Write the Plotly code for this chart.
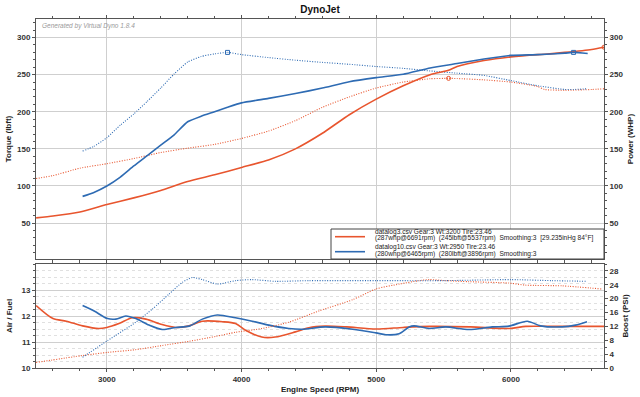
import numpy as np
import plotly.graph_objects as go

# ---------------- data ----------------
red_rpm = [2475, 2600, 2800, 3000, 3200, 3400, 3600, 3800, 4000, 4200, 4400, 4600, 4800,
           5000, 5200, 5400, 5537, 5600, 5800, 6000, 6200, 6250, 6400, 6600, 6691]
red_hp = [57, 59.5, 65, 75, 84, 94, 106, 115, 125, 135, 150, 171, 196,
          217, 235, 250, 256, 261, 269, 274, 277, 277.5, 280, 284, 287]
red_tq = [110, 114, 124, 130, 137, 145, 151, 156, 164, 174, 188, 206, 220,
          232, 240, 244.5, 245, 244.8, 243, 240, 234, 230, 229, 230, 231]

blue_rpm = [2820, 2900, 3000, 3100, 3200, 3300, 3400, 3500, 3600, 3700, 3800, 3896, 4000,
            4200, 4400, 4600, 4800, 5000, 5200, 5400, 5600, 5800, 6000, 6200, 6400, 6465, 6570]
blue_hp = [86, 91, 100, 112, 127, 141, 155, 169, 186.5, 194, 200, 206, 212,
           218, 224.5, 232, 240.5, 246, 250.5, 259, 265, 271, 276, 277, 279, 280, 278.5]
blue_tq = [147, 153, 165, 182, 197, 214, 232, 251, 267, 274.5, 278, 280, 277,
           273, 269.5, 266.5, 264, 261, 258.5, 255, 252, 249, 242, 235, 230, 230, 231]

red_afr_rpm = [2475, 2600, 2700, 2820, 2940, 3000, 3090, 3190, 3290, 3410, 3510, 3610, 3710,
               3860, 3955, 4030, 4150, 4250, 4400, 4500, 4620, 4780, 5000, 5200, 5400, 5700,
               5990, 6110, 6300, 6691]
red_afr = [12.4, 11.9, 11.8, 11.62, 11.52, 11.56, 11.71, 11.93, 11.88, 11.67, 11.56, 11.62, 11.8,
           11.78, 11.71, 11.45, 11.19, 11.19, 11.39, 11.55, 11.61, 11.58, 11.5, 11.56, 11.6, 11.58,
           11.52, 11.6, 11.6, 11.6]

blue_afr_rpm = [2820, 2906, 3005, 3067, 3141, 3215, 3313, 3412, 3511, 3610, 3709, 3820, 3955,
                4079, 4203, 4350, 4449, 4622, 4825, 4998, 5072, 5170, 5244, 5281, 5393, 5516,
                5689, 5861, 5985, 6121, 6220, 6380, 6479, 6565]
blue_afr = [12.4, 12.19, 11.9, 11.88, 12.0, 11.9, 11.65, 11.48, 11.56, 11.61, 11.88, 12.04, 11.93,
            11.8, 11.65, 11.52, 11.49, 11.58, 11.49, 11.35, 11.28, 11.32, 11.58, 11.62, 11.52, 11.58,
            11.48, 11.58, 11.61, 11.8, 11.62, 11.58, 11.65, 11.78]

red_boost_rpm = [2475, 2820, 3005, 3215, 3412, 3610, 3807, 3955, 4153, 4350, 4578, 4825, 4998,
                 5170, 5319, 5393, 5516, 5689, 5985, 6109, 6380, 6674]
red_boost = [1.6, 3.6, 4.5, 5.3, 6.5, 7.7, 9.1, 10.3, 11.4, 13.2, 16.5, 19.7, 22.8,
             24.2, 25.2, 25.5, 25.2, 24.9, 24.5, 23.9, 23.7, 22.8]

blue_boost_rpm = [2820, 3005, 3215, 3338, 3461, 3560, 3635, 3709, 3820, 3955, 4079, 4252,
                  4500, 5000, 5500, 6000, 6300, 6565]
blue_boost = [3.1, 7.9, 13.2, 17.0, 21.3, 24.7, 26.1, 25.5, 24.2, 25.2, 25.5, 25.0,
              25.2, 25.2, 25.2, 25.5, 25.2, 25.0]

legend_red = ["datalog3.csv Gear:3 Wt:3200 Tire:23.46",
              "(287whp@6691rpm)  (245lbft@5537rpm)  Smoothing:3  [29.235inHg 84°F]"]
legend_blue = ["datalog10.csv Gear:3 Wt:2950 Tire:23.46",
               "(280whp@6465rpm)  (280lbft@3896rpm)  Smoothing:3"]

RED = "#E8552E"
BLUE = "#2E6BB3"
FONT = "Liberation Sans"
DOT = "1px,1.5px"

fig = go.Figure()

# top panel
fig.add_trace(go.Scatter(x=red_rpm, y=red_hp, xaxis="x", yaxis="y2", mode="lines",
                         line=dict(color=RED, width=1.6, shape="spline", smoothing=0.5),
                         name=legend_red[0], showlegend=False))
fig.add_trace(go.Scatter(x=blue_rpm, y=blue_hp, xaxis="x", yaxis="y2", mode="lines",
                         line=dict(color=BLUE, width=1.6, shape="spline", smoothing=0.5),
                         name=legend_blue[0], showlegend=False))
fig.add_trace(go.Scatter(x=red_rpm, y=red_tq, xaxis="x", yaxis="y", mode="lines",
                         line=dict(color=RED, width=1.1, dash=DOT, shape="spline", smoothing=0.5),
                         showlegend=False))
fig.add_trace(go.Scatter(x=blue_rpm, y=blue_tq, xaxis="x", yaxis="y", mode="lines",
                         line=dict(color=BLUE, width=1.1, dash=DOT, shape="spline", smoothing=0.5),
                         showlegend=False))

# peak markers
for xs, ys, col, sym, ax in [(red_rpm, red_hp, RED, "circle-open", "y2"),
                             (red_rpm, red_tq, RED, "circle-open", "y"),
                             (blue_rpm, blue_hp, BLUE, "square-open", "y2"),
                             (blue_rpm, blue_tq, BLUE, "square-open", "y")]:
    i = int(np.argmax(ys))
    fig.add_trace(go.Scatter(x=[xs[i]], y=[ys[i]], xaxis="x", yaxis=ax, mode="markers",
                             marker=dict(symbol=sym, size=4, color=col, line=dict(width=1)),
                             showlegend=False))

# bottom panel
fig.add_trace(go.Scatter(x=red_afr_rpm, y=red_afr, xaxis="x2", yaxis="y3", mode="lines",
                         line=dict(color=RED, width=1.6, shape="spline", smoothing=0.8),
                         showlegend=False))
fig.add_trace(go.Scatter(x=blue_afr_rpm, y=blue_afr, xaxis="x2", yaxis="y3", mode="lines",
                         line=dict(color=BLUE, width=1.6, shape="spline", smoothing=0.8),
                         showlegend=False))
fig.add_trace(go.Scatter(x=red_boost_rpm, y=red_boost, xaxis="x2", yaxis="y4", mode="lines",
                         line=dict(color=RED, width=1.1, dash=DOT, shape="spline", smoothing=0.6),
                         showlegend=False))
fig.add_trace(go.Scatter(x=blue_boost_rpm, y=blue_boost, xaxis="x2", yaxis="y4", mode="lines",
                         line=dict(color=BLUE, width=1.1, dash=DOT, shape="spline", smoothing=0.6),
                         showlegend=False))

# layout geometry (pixels -> paper)
L, R, T, B = 36, 36, 19, 29
PW, PH = 640 - L - R, 397 - T - B


def px_x(p):
    return (p - L) / PW


def px_y(p):
    return (397 - B - p) / PH


TOP_LOW = px_y(259)
BOT_HIGH = px_y(264)
XR = [2474, 6691]
tickfont = dict(family=FONT, size=8, color="#333", weight="bold")
titlefont = dict(family=FONT, size=8, color="#222", weight="bold")
grid = "#cfcfcf"
axline = dict(showline=True, linecolor="#555", linewidth=1, automargin=False)

fig.update_layout(
    width=640, height=397,
    margin=dict(l=L, r=R, t=T, b=B),
    paper_bgcolor="white", plot_bgcolor="white",
    title=dict(text="<b>DynoJet</b>", x=0.5, xanchor="center", y=0.975, yanchor="middle",
               font=dict(family=FONT, size=10, color="#111")),
    showlegend=False,
    xaxis=dict(domain=[0, 1], anchor="y", range=XR, tick0=0, dtick=1000,
               showticklabels=False, showgrid=True, gridcolor=grid, zeroline=False,
               ticks="outside", ticklen=3, tickcolor="#555", mirror="ticks",
               minor=dict(tick0=0, dtick=200, ticks="outside", ticklen=2, tickcolor="#555",
                          showgrid=False),
               **axline),
    yaxis=dict(domain=[TOP_LOW, 1], anchor="x", range=[1.6, 325], tick0=0, dtick=50,
               showgrid=True, gridcolor=grid, zeroline=False, ticks="outside", ticklen=3,
               tickcolor="#555", tickfont=tickfont,
               title=dict(text="Torque (lbft)", font=titlefont, standoff=4),
               minor=dict(tick0=0, dtick=10, ticks="outside", ticklen=2, tickcolor="#555",
                          showgrid=False),
               **axline),
    yaxis2=dict(overlaying="y", side="right", anchor="x", range=[1.6, 325], tick0=0, dtick=50,
                showgrid=False, zeroline=False, ticks="outside", ticklen=3, tickcolor="#555",
                tickfont=tickfont,
                title=dict(text="Power (WHP)", font=titlefont, standoff=4),
                minor=dict(tick0=0, dtick=10, ticks="outside", ticklen=2, tickcolor="#555"),
                **axline),
    xaxis2=dict(domain=[0, 1], anchor="y3", range=XR, tick0=0, dtick=1000,
                showgrid=True, gridcolor=grid, zeroline=False, ticks="outside", ticklen=3,
                tickcolor="#555", tickfont=tickfont, mirror="ticks",
                title=dict(text="Engine Speed (RPM)", font=titlefont, standoff=3),
                minor=dict(tick0=0, dtick=200, ticks="outside", ticklen=2, tickcolor="#555",
                           showgrid=False),
                **axline),
    yaxis3=dict(domain=[0, BOT_HIGH], anchor="x2", range=[10, 14],
                tickmode="array", tickvals=[10, 11, 12, 13],
                showgrid=True, gridcolor=grid, zeroline=False, ticks="outside", ticklen=3,
                tickcolor="#555", tickfont=tickfont,
                title=dict(text="Air / Fuel", font=titlefont, standoff=7),
                minor=dict(tickmode="linear", tick0=10, dtick=0.25, ticks="outside", ticklen=2,
                           tickcolor="#555", showgrid=True, gridcolor="#e0e0e0", griddash="dot"),
                **axline),
    yaxis4=dict(overlaying="y3", side="right", anchor="x2", range=[0, 30],
                tickmode="array", tickvals=[0, 4, 8, 12, 16, 20, 24, 28],
                showgrid=False, zeroline=False, ticks="outside", ticklen=3, tickcolor="#555",
                tickfont=tickfont,
                title=dict(text="Boost (PSI)", font=titlefont, standoff=4),
                minor=dict(tickmode="linear", tick0=0, dtick=2, ticks="outside", ticklen=2,
                           tickcolor="#555"),
                **axline),
)

# watermark
fig.add_annotation(text="Generated by Virtual Dyno 1.8.4", xref="paper", yref="paper",
                   x=px_x(40), y=px_y(26), xanchor="left", yanchor="middle",
                   showarrow=False,
                   font=dict(family=FONT, size=6.5, color="#9a9a9a", style="italic"))

# legend box (drawn)
fig.add_shape(type="rect", xref="paper", yref="paper", x0=px_x(331), x1=1,
              y0=TOP_LOW, y1=px_y(229), line=dict(color="#444", width=1),
              fillcolor="white", layer="above")
for col, ypix in [(RED, 236.7), (BLUE, 251.7)]:
    fig.add_shape(type="line", xref="paper", yref="paper", x0=px_x(335), x1=px_x(365),
                  y0=px_y(ypix), y1=px_y(ypix), line=dict(color=col, width=1.6), layer="above")
for txt, ypix in [(legend_red[0], 231.8), (legend_red[1], 238.3),
                  (legend_blue[0], 247.3), (legend_blue[1], 254.3)]:
    fig.add_annotation(text=txt, xref="paper", yref="paper", x=px_x(374), y=px_y(ypix),
                       xanchor="left", yanchor="middle", showarrow=False, borderpad=0,
                       font=dict(family=FONT, size=6.6, color="#222"))

fig.write_html("out.html", config={"displayModeBar": False},
               post_script="document.body.style.margin='0';document.body.style.overflow='hidden';")
